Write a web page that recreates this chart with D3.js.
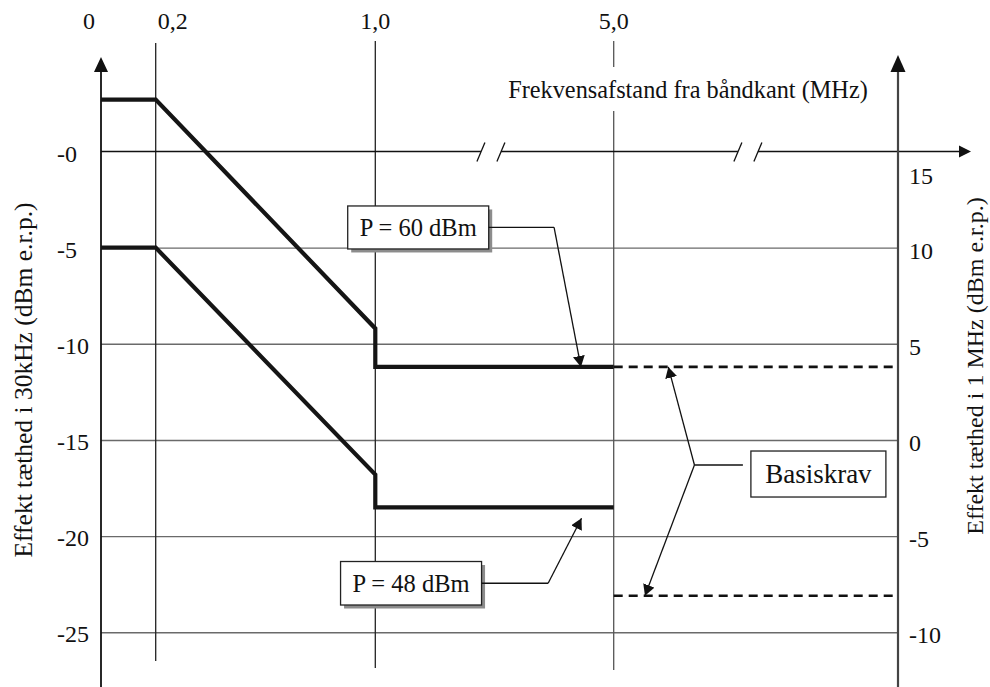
<!DOCTYPE html>
<html>
<head>
<meta charset="utf-8">
<script src="https://cdn.jsdelivr.net/npm/d3@7"></script>
<style>
  html,body{margin:0;padding:0;background:#fff;}
  svg{display:block;font-family:"Liberation Serif","Times New Roman",serif;}
</style>
</head>
<body>
<svg id="chart" width="990" height="687"></svg>
<script>
// ---------- data ----------
const FREQ_END = 10;                       // pseudo position of the right axis (beyond the break)
const freqTicks  = [0, 0.2, 1.0, 5.0];
const freqLabels = ["0", "0,2", "1,0", "5,0"];
const levelTicks  = [0, -5, -10, -15, -20, -25];
const levelLabels = ["-0", "-5", "-10", "-15", "-20", "-25"];
const rightTicks  = [15, 10, 5, 0, -5, -10];
const rightLabels = ["15", "10", "5", "0", "-5", "-10"];

const p60Freq  = [0, 0.2, 1.0, 1.0, 5.0];
const p60Level = [2.7, 2.7, -9.2, -11.2, -11.2];
const p48Freq  = [0, 0.2, 1.0, 1.0, 5.0];
const p48Level = [-5, -5, -16.8, -18.5, -18.5];
const basisFreq  = [5.0, FREQ_END];
const basisUpper = [-11.2, -11.2];
const basisLower = [-23.1, -23.1];
const axisBreaks = [2.94, 7.36];

const calloutP60 = {label: "P = 60 dBm", box: [1.72, -3.95], bend: [4.0, -3.95], tips: [[4.45, -11.2]]};
const calloutP48 = {label: "P = 48 dBm", box: [1.60, -22.45], bend: [3.9, -22.45], tips: [[4.46, -19.07]]};
const calloutBasis = {label: "Basiskrav", box: [8.6, -16.77], bend: [6.42, -16.3], tips: [[5.96, -11.2], [5.55, -23.1]]};

const xTitle = "Frekvensafstand fra båndkant (MHz)";
const yLeftTitle = "Effekt tæthed i 30kHz (dBm e.r.p.)";
const yRightTitle = "Effekt tæthed i 1 MHz (dBm e.r.p.)";

// ---------- scales ----------
const svg = d3.select("#chart");
const x = d3.scaleLinear().domain([0, 0.2, 1, 5, FREQ_END]).range([101, 155.7, 375.3, 613.7, 898]);
const yL = d3.scaleLinear().domain([0, -25]).range([151.5, 632.3]);
const yR = d3.scaleLinear().domain([15, -10]).range([151.5, 632.3]);
const X0 = x(0), XR = x(FREQ_END);

// markers
const defs = svg.append("defs");
defs.append("marker").attr("id", "arr").attr("markerUnits", "userSpaceOnUse")
  .attr("viewBox", "0 -6 12 12").attr("refX", 11).attr("refY", 0)
  .attr("markerWidth", 12).attr("markerHeight", 12).attr("orient", "auto")
  .append("path").attr("d", "M0,-6L11,0L0,6Z").attr("fill", "#111");

// ---------- grid (via axis) ----------
const grid = svg.append("g").attr("transform", `translate(${X0},0)`)
  .call(d3.axisLeft(yL).tickValues(levelTicks.filter(v => v !== 0)).tickSize(-(XR - X0)).tickFormat(""));
grid.select(".domain").remove();
grid.selectAll("line").attr("stroke", "#6a6a6a").attr("stroke-width", 1.4);

// vertical frequency lines
const vTop = {0.2: 43, 1: 41, 5: 41};
const vBot = {0.2: 661, 1: 668, 5: 670};
svg.append("g").selectAll("line").data(freqTicks.filter(f => f > 0)).join("line")
  .attr("x1", d => x(d)).attr("x2", d => x(d))
  .attr("y1", d => vTop[d]).attr("y2", d => vBot[d])
  .attr("stroke", d => d === 5 ? "#555" : "#222").attr("stroke-width", 1.3);

// x axis (0 line) with breaks
const y0 = yL(0);
const bx = axisBreaks.map(x);
const segs = [[X0, bx[0] - 10], [bx[0] + 10, bx[1] - 10], [bx[1] + 10, 961]];
svg.append("g").selectAll("line").data(segs).join("line")
  .attr("x1", d => d[0]).attr("x2", d => d[1]).attr("y1", y0).attr("y2", y0)
  .attr("stroke", "#111").attr("stroke-width", 1.5);
svg.append("g").selectAll("line").data(bx.flatMap(c => [c - 10, c + 10])).join("line")
  .attr("x1", d => d - 4).attr("x2", d => d + 4).attr("y1", y0 + 10).attr("y2", y0 - 9)
  .attr("stroke", "#111").attr("stroke-width", 1.3);
svg.append("path").attr("d", `M971,${y0}L959,${y0 - 6}L959,${y0 + 6}Z`).attr("fill", "#111");

// left axis
svg.append("line").attr("x1", X0).attr("x2", X0).attr("y1", 70).attr("y2", 687)
  .attr("stroke", "#111").attr("stroke-width", 1.8);
svg.append("path").attr("d", `M${X0},57L${X0 - 7},72L${X0 + 7},72Z`).attr("fill", "#111");
// right axis
svg.append("line").attr("x1", XR).attr("x2", XR).attr("y1", 70).attr("y2", 687)
  .attr("stroke", "#444").attr("stroke-width", 2.2);
svg.append("path").attr("d", `M${XR},55L${XR - 7.5},72L${XR + 7.5},72Z`).attr("fill", "#111");

// ---------- tick labels ----------
const tf = 24;
svg.append("g").selectAll("text").data(levelTicks).join("text")
  .attr("x", 57).attr("y", d => yL(d) + 10).attr("font-size", tf).attr("fill", "#111")
  .text((d, i) => levelLabels[i]);
svg.append("g").selectAll("text").data(rightTicks).join("text")
  .attr("x", 909).attr("y", d => yR(d) + (d === 15 ? 32 : 11)).attr("font-size", tf).attr("fill", "#111")
  .text((d, i) => rightLabels[i]);
const topAnchor = {0: "end", 0.2: "start", 1: "middle", 5: "middle"};
const topDx = {0: -6, 0.2: 2, 1: 0, 5: 0};
svg.append("g").selectAll("text").data(freqTicks).join("text")
  .attr("x", d => x(d) + topDx[d]).attr("y", 29).attr("font-size", tf).attr("fill", "#111")
  .attr("text-anchor", d => topAnchor[d])
  .text((d, i) => freqLabels[i]);

// x title with white backing (breaks the 5.0 line)
svg.append("rect").attr("x", 500).attr("y", 67).attr("width", 375).attr("height", 44).attr("fill", "#fff");
svg.append("text").attr("x", 688).attr("y", 98).attr("text-anchor", "middle")
  .attr("font-size", 24.3).attr("fill", "#111").text(xTitle);

// y titles
svg.append("text").attr("transform", `translate(32,380) rotate(-90)`).attr("text-anchor", "middle")
  .attr("font-size", 25.5).attr("fill", "#111").text(yLeftTitle);
svg.append("text").attr("transform", `translate(983,366) rotate(-90)`).attr("text-anchor", "middle")
  .attr("font-size", 24).attr("fill", "#111").text(yRightTitle);

// ---------- curves ----------
const line = d3.line().x(d => x(d[0])).y(d => yL(d[1]));
const mk = (fs, ls) => fs.map((f, i) => [f, ls[i]]);
svg.append("path").attr("d", line(mk(basisFreq, basisUpper))).attr("fill", "none")
  .attr("stroke", "#111").attr("stroke-width", 2.6).attr("stroke-dasharray", "9,6");
svg.append("path").attr("d", line(mk(basisFreq, basisLower))).attr("fill", "none")
  .attr("stroke", "#111").attr("stroke-width", 2.6).attr("stroke-dasharray", "9,6");
[mk(p60Freq, p60Level), mk(p48Freq, p48Level)].forEach(pts => {
  svg.append("path").attr("d", line(pts.map((p, i) => i === 0 ? [p[0], p[1]] : p)))
    .attr("fill", "none").attr("stroke", "#151515").attr("stroke-width", 4.2)
    .attr("stroke-linejoin", "miter");
});

// ---------- callouts ----------
function callout(c, opts) {
  const g = svg.append("g");
  const cx = x(c.box[0]), cy = yL(c.box[1]);
  const t = g.append("text").attr("x", cx).attr("y", cy + opts.fs * 0.34).attr("text-anchor", "middle")
    .attr("font-size", opts.fs).attr("fill", "#111").text(c.label);
  const w = opts.w, h = opts.h;
  if (opts.shadow) {
    g.insert("rect", "text").attr("x", cx - w / 2 + 3.5).attr("y", cy - h / 2 + 3.5)
      .attr("width", w).attr("height", h).attr("fill", "#8c8c8c");
  }
  g.insert("rect", "text").attr("x", cx - w / 2).attr("y", cy - h / 2).attr("width", w).attr("height", h)
    .attr("fill", "#fff").attr("stroke", "#222").attr("stroke-width", 1.3);
  const bxp = x(c.bend[0]), byp = yL(c.bend[1]);
  const startX = opts.side === "right" ? cx + w / 2 : cx - w / 2 - opts.gap;
  g.append("line").attr("x1", startX).attr("y1", byp).attr("x2", bxp).attr("y2", byp)
    .attr("stroke", "#111").attr("stroke-width", 1.3);
  c.tips.forEach(tp => {
    g.append("line").attr("x1", bxp).attr("y1", byp).attr("x2", x(tp[0])).attr("y2", yL(tp[1]))
      .attr("stroke", "#111").attr("stroke-width", 1.3).attr("marker-end", "url(#arr)");
  });
}
callout(calloutP60, {fs: 24.5, w: 141, h: 43, shadow: true, side: "right", gap: 0});
callout(calloutP48, {fs: 24.5, w: 141, h: 43.5, shadow: true, side: "right", gap: 0});
callout(calloutBasis, {fs: 27, w: 135, h: 46, shadow: false, side: "left", gap: 8});
</script>
</body>
</html>
